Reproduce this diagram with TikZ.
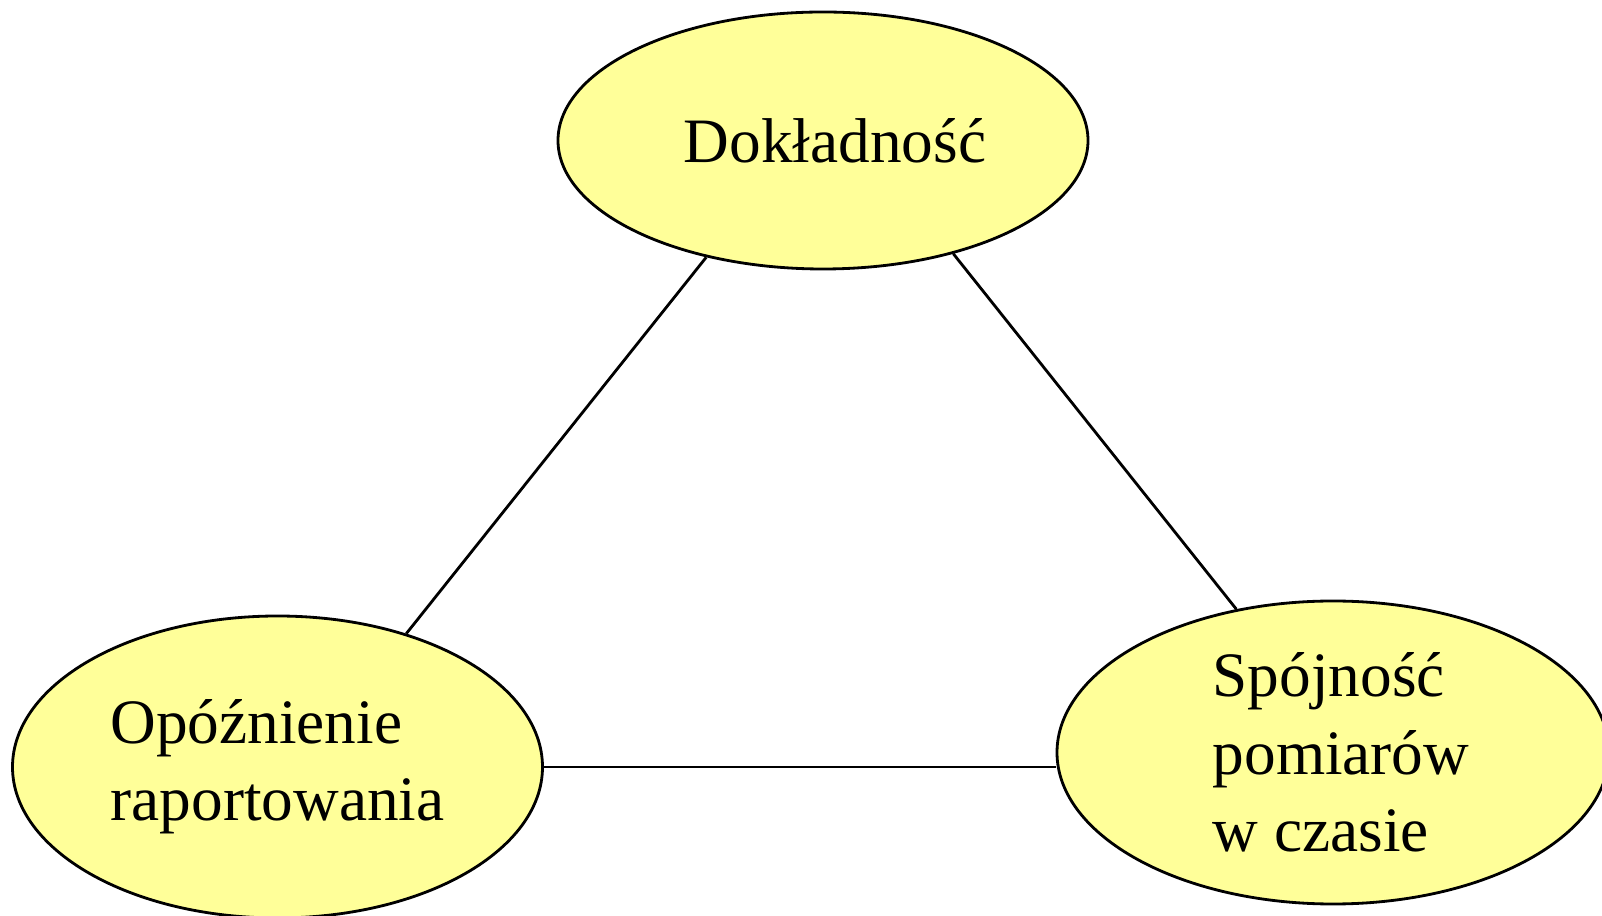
\documentclass[tikz,border=0pt]{standalone}
\usepackage{fontspec}
\setmainfont{Liberation Serif}
\usetikzlibrary{shapes.geometric}
\definecolor{paleyellow}{RGB}{255,255,153}

\begin{document}
\begin{tikzpicture}[
  bubble/.style={ellipse, draw, line width=0.8pt, fill=paleyellow, inner sep=0pt,
    align=left, font=\fontsize{18}{22}\selectfont},
  link/.style={line width=0.8pt}
]
\useasboundingbox (0,0) rectangle (16.02,9.15);

% Accuracy (top)
\node[bubble, minimum width=5.30cm, minimum height=2.57cm] (acc) at (8.23,7.745) {\hspace*{0.24cm}Dokładność};

% Reporting delay (bottom left)
\node[bubble, minimum width=5.30cm, minimum height=3.02cm] (delay) at (2.775,1.48) {Opóźnienie\\raportowania};

% Consistency over time (bottom right)
\node[bubble, minimum width=5.52cm, minimum height=3.03cm] (cons) at (13.33,1.625)
  {\hspace*{0.16cm}Spójność\\\hspace*{0.16cm}pomiarów\\\hspace*{0.16cm}w czasie};

% Connections
\draw[link] (acc.225) -- (delay.46);
\draw[link] (acc.319) -- (cons.124);
\draw[link] (delay.east) -- (delay.east -| cons.west);

\end{tikzpicture}
\end{document}
